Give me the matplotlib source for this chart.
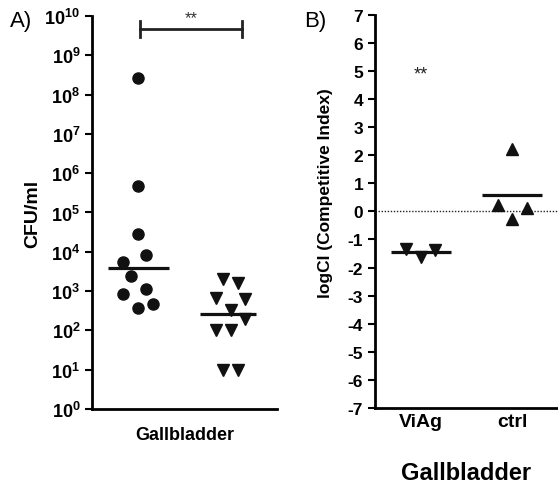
import numpy as np
import matplotlib
matplotlib.use("Agg")
import matplotlib.pyplot as plt

plt.rcParams['font.family'] = ['Liberation Sans', 'DejaVu Sans']
plt.rcParams['mathtext.fontset'] = 'custom'
plt.rcParams['mathtext.bf'] = 'Liberation Sans:bold'
plt.rcParams['mathtext.rm'] = 'Liberation Sans'

# Panel A: CFU/ml in gallbladder (two groups)
cfu_circles = [2.6e8, 4.7e5, 2.8e4, 8.3e3, 5.5e3, 2.4e3, 850, 1.1e3, 370, 470]
cfu_circles_dx = [0, 0, 0, 0.08, -0.16, -0.08, -0.16, 0.08, 0, 0.16]
cfu_triangles = [2000, 1600, 660, 630, 330, 195, 100, 100, 10, 10]
cfu_triangles_dx = [-0.08, 0.08, -0.16, 0.16, 0, 0.16, -0.16, 0, -0.08, 0.08]

# Panel B: log competitive index
ci_labels = ["ViAg", "ctrl"]
ci_viag = [-1.34, -1.62, -1.36]
ci_viag_dx = [-0.16, 0, 0.16]
ci_ctrl = [2.23, 0.23, -0.27, 0.12]
ci_ctrl_dx = [0, -0.16, 0, 0.16]

fig = plt.figure(figsize=(5.58, 4.85), dpi=100)
axA = fig.add_axes([0.165, 0.1546, 0.331, 0.8104])
axB = fig.add_axes([0.672, 0.157, 0.328, 0.810])

for ax in (axA, axB):
    for s in ("top", "right"):
        ax.spines[s].set_visible(False)
    for s in ("left", "bottom"):
        ax.spines[s].set_linewidth(2)
    ax.tick_params(width=1.5, length=5)

# ---- Panel A
axA.set_yscale("log")
axA.set_ylim(1, 1e10)
axA.set_xlim(0.5, 2.5)
axA.set_yticks([10.0**k for k in range(11)])
axA.set_yticklabels([f"$\\mathbf{{10^{{{k}}}}}$" for k in range(11)], fontsize=13)
axA.yaxis.set_minor_locator(matplotlib.ticker.NullLocator())
axA.set_xticks([])

axA.plot(1 + np.array(cfu_circles_dx), cfu_circles, "o", color="#111111",
         markersize=8, clip_on=False, linestyle="none")
axA.plot(2 + np.array(cfu_triangles_dx), cfu_triangles, "v", color="#111111",
         markersize=8, clip_on=False, linestyle="none")
axA.hlines(np.median(cfu_circles), 0.67, 1.33, color="#111111", lw=2.3)
axA.hlines(np.median(cfu_triangles), 1.67, 2.28, color="#111111", lw=2.3)

# significance bracket
axA.plot([1.02, 2.12], [4.8e9, 4.8e9], color="#222222", lw=2)
axA.plot([1.02, 1.02], [3.0e9, 7.6e9], color="#222222", lw=2)
axA.plot([2.12, 2.12], [3.0e9, 7.6e9], color="#222222", lw=2)
axA.text(1.57, 6.0e9, "**", ha="center", va="bottom", fontsize=12, color="#333333")

axA.set_ylabel("CFU/ml", fontsize=14, fontweight="bold", labelpad=2)
axA.set_xlabel("Gallbladder", fontsize=13, fontweight="bold", labelpad=12)
fig.text(0.018, 0.955, "A)", fontsize=16, va="center")

# ---- Panel B
axB.set_ylim(-7, 7)
axB.set_xlim(0.5, 2.5)
axB.set_yticks(range(-7, 8))
axB.set_yticklabels([str(v) for v in range(-7, 8)], fontsize=12.5, fontweight="bold")
axB.set_xticks([1, 2])
axB.set_xticklabels(ci_labels, fontsize=14, fontweight="bold")
axB.tick_params(axis="x", length=0, pad=4)
axB.axhline(0, color="#222222", lw=1, linestyle=(0, (1, 1.2)))

axB.plot(1 + np.array(ci_viag_dx), ci_viag, "v", color="#111111",
         markersize=8, linestyle="none")
axB.plot(2 + np.array(ci_ctrl_dx), ci_ctrl, "^", color="#111111",
         markersize=8, linestyle="none")
axB.hlines(np.mean(ci_viag), 0.67, 1.33, color="#111111", lw=2.3)
axB.hlines(np.mean(ci_ctrl), 1.67, 2.33, color="#111111", lw=2.3)
axB.text(1.0, 4.9, "**", ha="center", va="center", fontsize=13, color="#222222")

axB.set_ylabel("logCI (Competitive Index)", fontsize=12.5, fontweight="bold")
axB.yaxis.set_label_coords(-0.23, 0.55)
axB.set_xlabel("Gallbladder", fontsize=17, fontweight="bold", labelpad=22)
fig.text(0.545, 0.955, "B)", fontsize=16, va="center")

fig.savefig("out.png", dpi=100)
